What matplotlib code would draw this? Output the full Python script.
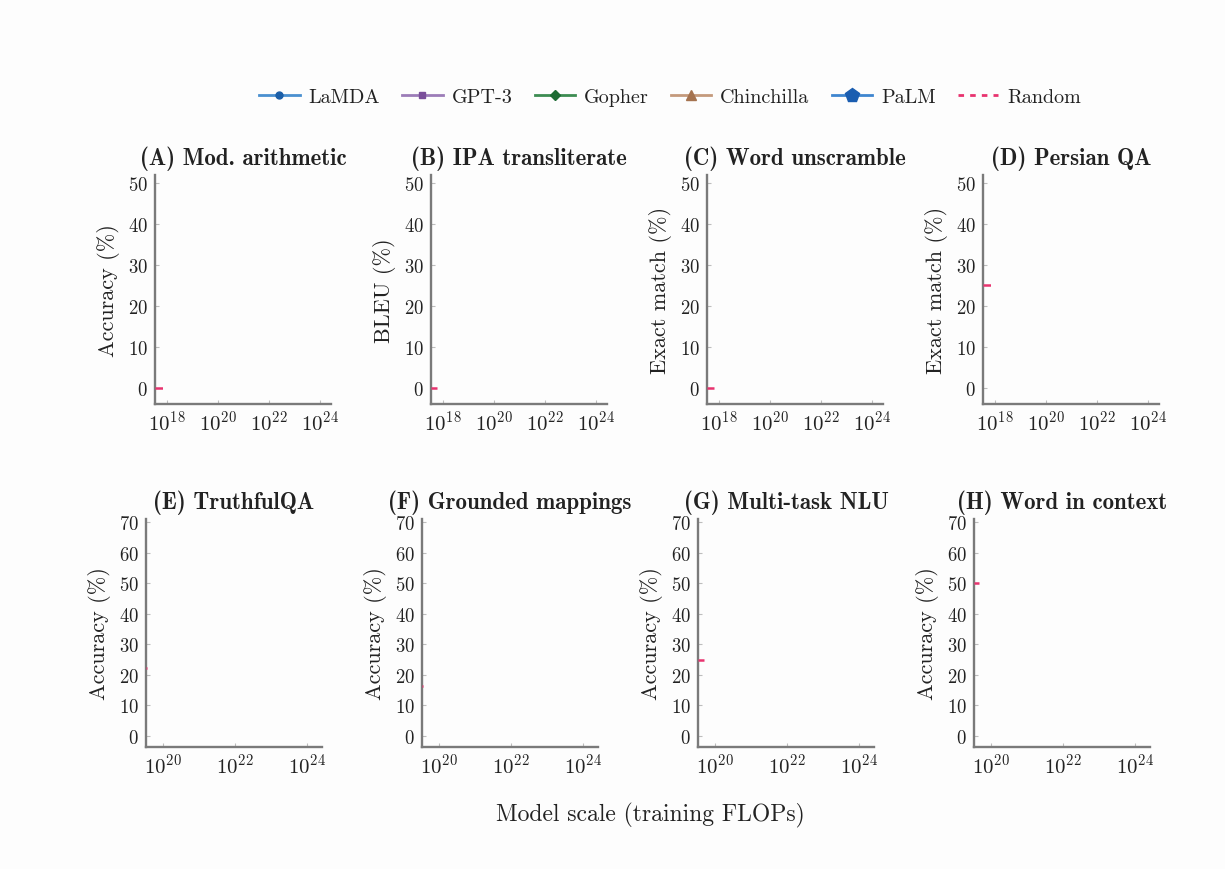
import numpy as np
import matplotlib
matplotlib.use("Agg")
import matplotlib.pyplot as plt
from matplotlib.lines import Line2D

# ---- data ----
titles = ["(A) Mod. arithmetic", "(B) IPA transliterate", "(C) Word unscramble", "(D) Persian QA",
          "(E) TruthfulQA", "(F) Grounded mappings", "(G) Multi-task NLU", "(H) Word in context"]
ylabels = ["Accuracy (%)", "BLEU (%)", "Exact match (%)", "Exact match (%)",
           "Accuracy (%)", "Accuracy (%)", "Accuracy (%)", "Accuracy (%)"]
series_names = ["LaMDA", "GPT-3", "Gopher", "Chinchilla", "PaLM", "Random"]
# random-chance baseline level per panel (%)
random_level = [0, 0, 0, 25, 22.4, 16.5, 25, 50]
# visible extent (log10 FLOPs) of the random baseline in this frame
random_log_start = [17.53, 17.53, 17.53, 17.53, 19.53, 19.53, 19.53, 19.53]
random_log_end = [17.84, 17.77, 17.80, 17.84, 19.57, 19.57, 19.70, 19.67]
top_xticks = [1e18, 1e20, 1e22, 1e24]
bot_xticks = [1e20, 1e22, 1e24]
top_yticks = [0, 10, 20, 30, 40, 50]
bot_yticks = [0, 10, 20, 30, 40, 50, 60, 70]

# ---- style ----
plt.rcParams['font.family'] = ['cmr10', 'DejaVu Serif']
plt.rcParams['mathtext.fontset'] = 'cm'
plt.rcParams['axes.formatter.use_mathtext'] = True
plt.rcParams['axes.unicode_minus'] = False

spine_col = '#7a7a7a'
text_col = '#222222'
random_col = '#e8336f'
line_cols = ['#4a90d0', '#9c7cb8', '#3d8c52', '#c49a7c', '#3f86cf']
marker_cols = ['#1c5fa8', '#7a4f9a', '#1d6b33', '#a5734f', '#1a5db0']
markers = ['o', 's', 'D', '^', 'p']
msizes = [5, 5, 5, 7, 10]

fig = plt.figure(figsize=(12.25, 8.7), dpi=100)
fig.patch.set_facecolor('#fdfdfd')

top_lefts = [0.1265, 0.3518, 0.5771, 0.8024]
bot_lefts = [0.1192, 0.3445, 0.5698, 0.7951]
w = 0.1437

for i in range(8):
    if i < 4:
        ax = fig.add_axes([top_lefts[i], 0.5345, w, 0.2632])
        xlim = (10**17.53, 10**24.43)
        ylim = (-4, 52)
        xt, yt = top_xticks, top_yticks
    else:
        ax = fig.add_axes([bot_lefts[i - 4], 0.1402, w, 0.2621])
        xlim = (10**19.53, 10**24.42)
        ylim = (-3.6, 71)
        xt, yt = bot_xticks, bot_yticks
    ax.set_facecolor('none')
    ax.set_xscale('log')
    ax.set_xlim(*xlim)
    ax.set_ylim(*ylim)
    ax.set_xticks(xt)
    ax.set_yticks(yt)
    ax.minorticks_off()
    for s in ['top', 'right']:
        ax.spines[s].set_visible(False)
    for s in ['left', 'bottom']:
        ax.spines[s].set_color(spine_col)
        ax.spines[s].set_linewidth(1.7)
    ax.tick_params(direction='in', length=3, width=0.8, colors='#bdbdbd',
                   labelcolor=text_col, labelsize=13.5, pad=5)
    ax.tick_params(axis='x', labelsize=15, pad=4)
    ax.set_title(titles[i], fontsize=16.5, fontfamily=['cmb10', 'DejaVu Serif'],
                 color=text_col, pad=8)
    ax.set_ylabel(ylabels[i], fontsize=16, color=text_col, labelpad=6)
    rx = [10**random_log_start[i], 10**random_log_end[i]]
    ax.plot(rx, [random_level[i], random_level[i]], color=random_col, lw=1.8,
            dashes=(3, 2), solid_capstyle='butt', clip_on=False, zorder=5)

handles = []
for k in range(5):
    handles.append(Line2D([0], [0], color=line_cols[k], lw=2, marker=markers[k],
                          markersize=msizes[k], markerfacecolor=marker_cols[k],
                          markeredgecolor=marker_cols[k]))
handles.append(Line2D([0], [0], color=random_col, lw=2, dashes=(2, 2.2)))
leg = fig.legend(handles, series_names, loc='center', bbox_to_anchor=(0.547, 0.887),
                 ncol=6, frameon=False, fontsize=14.5, handlelength=2.0,
                 columnspacing=1.1, handletextpad=0.45)
for t in leg.get_texts():
    t.set_color(text_col)

fig.text(0.531, 0.063, "Model scale (training FLOPs)", ha='center', va='center',
         fontsize=17, color=text_col)

fig.savefig("out.png", dpi=100, facecolor=fig.get_facecolor())
